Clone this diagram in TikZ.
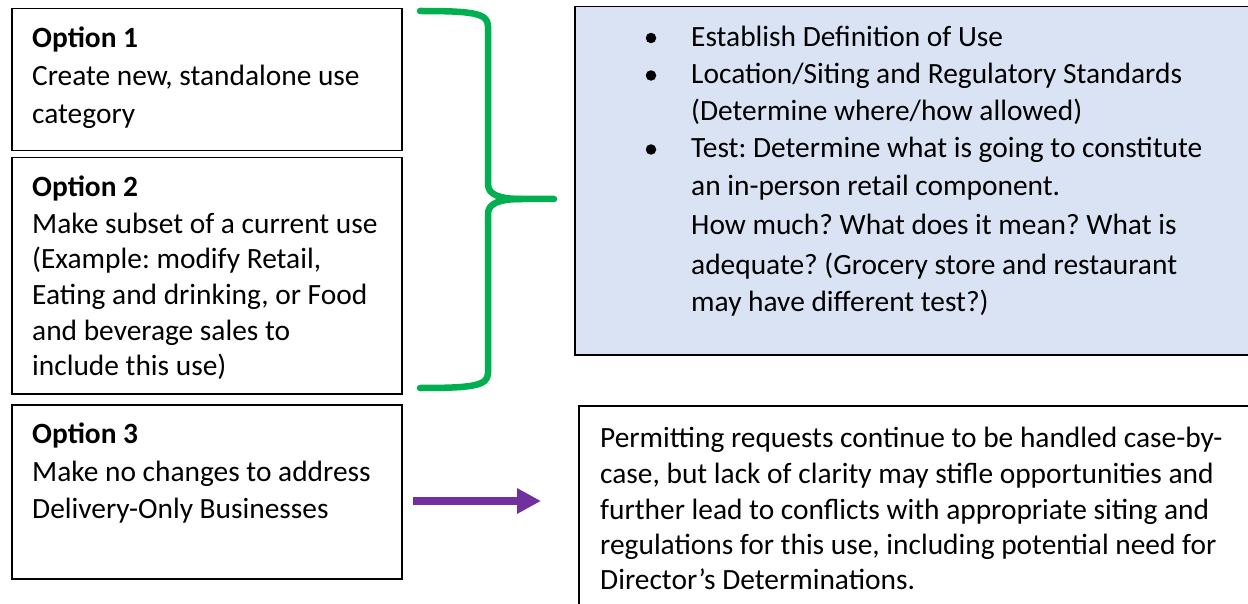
\documentclass[tikz,border=0pt]{standalone}
\usepackage{fontspec}
\setmainfont{Carlito}
\usetikzlibrary{arrows.meta}
\definecolor{bracegreen}{RGB}{0,176,80}
\definecolor{arrowpurple}{RGB}{112,48,160}
\definecolor{paleblue}{RGB}{218,227,243}
\frenchspacing
\begin{document}
\begin{tikzpicture}[x=1pt,y=-1pt,
  box/.style={draw=black,line width=1.5pt,rectangle,inner sep=0pt,anchor=north west},
  txt/.style={anchor=base west,inner sep=0pt,font=\fontsize{29.4}{35}\selectfont},
  bul/.style={circle,fill=black,inner sep=0pt,minimum size=10.5pt},
  bracestyle/.style={draw=bracegreen,line width=6.5pt,line cap=round,line join=round},
  arrowstyle/.style={draw=arrowpurple,line width=8pt,-{Triangle[length=24pt,width=24pt]}}]
\clip (0,0) rectangle (1248,604);
% left boxes
\node[box,minimum width=390pt,minimum height=142pt] (o1) at (11,8) {};
\node[box,minimum width=390pt,minimum height=236pt] (o2) at (11,157) {};
\node[box,minimum width=390pt,minimum height=174pt] (o3) at (11,404) {};
% right boxes
\node[box,fill=paleblue,minimum width=700pt,minimum height=348pt] (rb) at (574,6) {};
\node[box,minimum width=700pt,minimum height=220pt] (rc) at (578,405) {};
% option 1
\node[txt] (t11) at (32,47.5) {\bfseries Option 1};
\node[txt] (t12) at (32,86) {Create new, standalone use};
\node[txt] (t13) at (32,124) {category};
% option 2
\node[txt] (t21) at (32,197) {\bfseries Option 2};
\node[txt] (t22) at (32,234) {Make subset of a current use};
\node[txt] (t23) at (32,269) {(Example: modify Retail,};
\node[txt] (t24) at (32,304) {Eating and drinking, or Food};
\node[txt] (t25) at (32,340) {and beverage sales to};
\node[txt] (t26) at (32,375) {include this use)};
% option 3
\node[txt] (t31) at (32,443) {\bfseries Option 3};
\node[txt] (t32) at (32,481) {Make no changes to address};
\node[txt] (t33) at (32,518) {Delivery-Only Businesses};
% bullets
\node[bul] (b1) at (651,38) {};
\node[bul] (b2) at (651,75.5) {};
\node[bul] (b3) at (651,149.5) {};
\node[txt] (r1) at (691,46.5) {Establish Definition of Use};
\node[txt] (r2) at (691,84) {Location/Siting and Regulatory Standards};
\node[txt] (r3) at (691,121) {(Determine where/how allowed)};
\node[txt] (r4) at (691,158) {Test: Determine what is going to constitute};
\node[txt] (r5) at (691,196) {an in-person retail component.};
\node[txt] (r6) at (691,235) {How much? What does it mean? What is};
\node[txt] (r7) at (691,274) {adequate? (Grocery store and restaurant};
\node[txt] (r8) at (691,311) {may have different test?)};
% bottom right text
\node[txt] (s1) at (600,447) {Permitting requests continue to be handled case-by-};
\node[txt] (s2) at (600,483) {case, but lack of clarity may stifle opportunities and};
\node[txt] (s3) at (600,519) {further lead to conflicts with appropriate siting and};
\node[txt] (s4) at (600,554) {regulations for this use, including potential need for};
\node[txt] (s5) at (600,589) {Director’s Determinations.};
% brace
\coordinate (bt) at (420,11);
\coordinate (bm) at (554,199);
\coordinate (bb) at (420,388);
\draw[bracestyle] (bt) .. controls (472,11) and (488,13) .. (488,26) -- (488,184)
  .. controls (488,195) and (500,199) .. (522,199) -- (bm);
\draw[bracestyle] (522,199) .. controls (500,199) and (488,203) .. (488,214) -- (488,373)
  .. controls (488,386) and (472,388) .. (bb);
% arrow
\coordinate (a0) at (413,501);
\coordinate (a1) at (541,501);
\draw[arrowstyle] (a0) -- (a1);
\end{tikzpicture}
\end{document}
